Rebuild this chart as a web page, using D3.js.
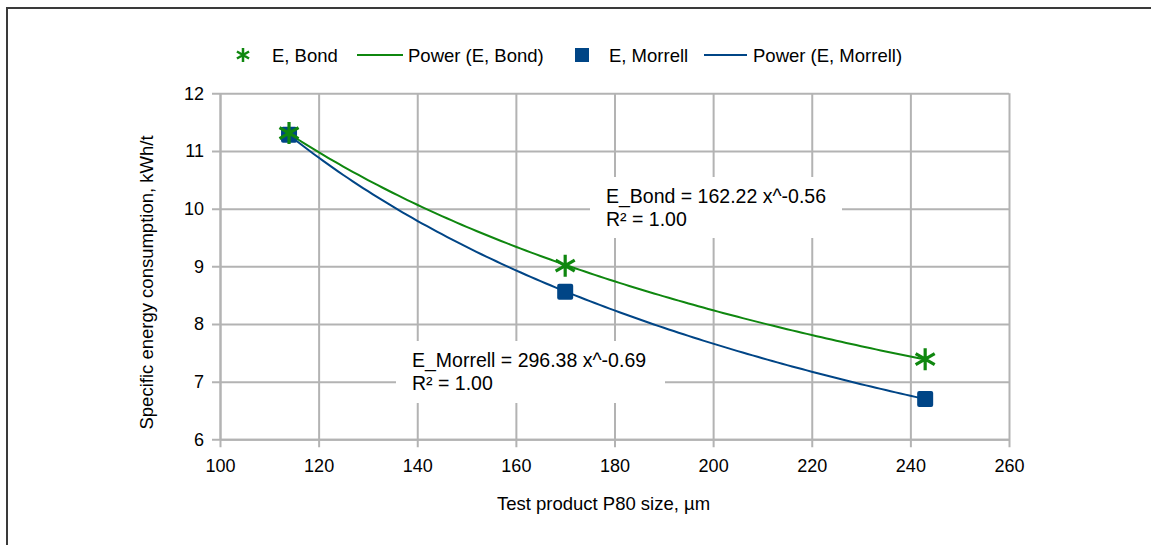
<!DOCTYPE html>
<html>
<head>
<meta charset="utf-8">
<script src="https://cdn.jsdelivr.net/npm/d3@7"></script>
<style>
  body { margin: 0; background: #fff; }
  text { font-family: "Liberation Sans", Arial, sans-serif; fill: #000; }
</style>
</head>
<body>
<svg id="chart" width="1151" height="545"></svg>
<script>
var sizeP80 = [114, 170, 243];
var energyBond = [11.31, 9.01, 7.39];
var energyMorrell = [11.28, 8.56, 6.70];
var xTicks = [100, 120, 140, 160, 180, 200, 220, 240, 260];
var yTicks = [6, 7, 8, 9, 10, 11, 12];
var legendLabels = ["E, Bond", "Power (E, Bond)", "E, Morrell", "Power (E, Morrell)"];
var fitLabels = [["E_Bond = 162.22 x^-0.56", "R\u00b2 = 1.00"], ["E_Morrell = 296.38 x^-0.69", "R\u00b2 = 1.00"]];

var green = "#0f870f", blue = "#004586", gridColor = "#b3b3b3";

var svg = d3.select("#chart");

// outer frame, cut off at the right and bottom
svg.append("rect")
  .attr("x", 7).attr("y", 8)
  .attr("width", 1200).attr("height", 600)
  .attr("fill", "none")
  .attr("stroke", "#3a3a3a")
  .attr("stroke-width", 2);

var plotLeft = 220, plotRight = 1009, plotTop = 93.3, plotBottom = 439.3;

var x = d3.scaleLinear().domain([100, 260]).range([plotLeft, plotRight]);
var y = d3.scaleLinear().domain([6, 12]).range([plotBottom, plotTop]);

// power fit y = a*x^b by least squares in log-log space
function powerFit(xs, ys){
  var lx = xs.map(Math.log), ly = ys.map(Math.log);
  var mx = d3.mean(lx), my = d3.mean(ly);
  var sxy = d3.sum(lx, function(d,i){ return (d-mx)*(ly[i]-my); });
  var sxx = d3.sum(lx, function(d){ return (d-mx)*(d-mx); });
  var b = sxy/sxx;
  var a = Math.exp(my - b*mx);
  return function(v){ return a*Math.pow(v, b); };
}

// grid + axes
var xAxis = svg.append("g")
  .attr("transform", "translate(0," + plotBottom + ")")
  .call(d3.axisBottom(x).tickValues(xTicks).tickFormat(d3.format("d"))
    .tickSize(8).tickSizeOuter(0).tickPadding(12));
xAxis.selectAll(".tick line").attr("y1", -(plotBottom - plotTop));

var yAxis = svg.append("g")
  .attr("transform", "translate(" + plotLeft + ",0)")
  .call(d3.axisLeft(y).tickValues(yTicks).tickFormat(d3.format("d"))
    .tickSize(8).tickSizeOuter(0).tickPadding(8));
yAxis.selectAll(".tick line").attr("x1", plotRight - plotLeft);

svg.selectAll(".domain").attr("stroke", gridColor).attr("stroke-width", 2);
svg.selectAll(".tick line").attr("stroke", gridColor).attr("stroke-width", 2);
svg.selectAll(".tick text")
  .style("font-size", "18px")
  .attr("fill", "#000");

// white boxes behind the fit equations
var fitBoxes = [[590, 177, 252, 61], [396, 341, 269, 62]];
var fitText = [[606, 202.5], [412, 366.5]];
fitLabels.forEach(function(lines, k){
  svg.append("rect")
    .attr("x", fitBoxes[k][0]).attr("y", fitBoxes[k][1])
    .attr("width", fitBoxes[k][2]).attr("height", fitBoxes[k][3])
    .attr("fill", "#fff");
  var t = svg.append("text")
    .attr("x", fitText[k][0]).attr("y", fitText[k][1])
    .style("font-size", "19.5px");
  t.selectAll("tspan")
    .data(lines)
    .enter()
    .append("tspan")
    .attr("x", fitText[k][0])
    .attr("dy", function(d,i){ return i == 0 ? 0 : 23; })
    .text(function(d){ return d; });
});

// trend curves
var fitBond = powerFit(sizeP80, energyBond);
var fitMorrell = powerFit(sizeP80, energyMorrell);
var curveX = d3.range(d3.min(sizeP80), d3.max(sizeP80) + 0.5, 1);
var line = d3.line().x(function(d){ return x(d[0]); }).y(function(d){ return y(d[1]); });

svg.append("path")
  .attr("d", line(curveX.map(function(v){ return [v, fitMorrell(v)]; })))
  .attr("fill", "none").attr("stroke", blue).attr("stroke-width", 2);
svg.append("path")
  .attr("d", line(curveX.map(function(v){ return [v, fitBond(v)]; })))
  .attr("fill", "none").attr("stroke", green).attr("stroke-width", 2);

function asterisk(r){
  var u = r*Math.sqrt(3)/2, t = r/2;
  return "M0," + r + "L0," + (-r) + "M" + (-u) + "," + (-t) + "L" + u + "," + t +
         "M" + (-u) + "," + t + "L" + u + "," + (-t);
}

// markers
svg.append("g").selectAll("rect")
  .data(sizeP80)
  .enter()
  .append("rect")
  .attr("x", function(d){ return x(d) - 8; })
  .attr("y", function(d,i){ return y(energyMorrell[i]) - 8; })
  .attr("width", 16).attr("height", 16)
  .attr("rx", 2)
  .attr("fill", blue);

svg.append("g").selectAll("path")
  .data(sizeP80)
  .enter()
  .append("path")
  .attr("transform", function(d,i){ return "translate(" + x(d) + "," + y(energyBond[i]) + ")"; })
  .attr("d", asterisk(11))
  .attr("stroke", green)
  .attr("stroke-width", 3.2)
  .attr("fill", "none");

// legend, keys placed where the original has them
var legend = svg.append("g");
var ly = 55;
var keyX = [243, 357, 582, 704];
var textX = [272, 408, 609, 753];

legend.append("path")
  .attr("transform", "translate(" + keyX[0] + "," + ly + ")")
  .attr("d", asterisk(7))
  .attr("stroke", green).attr("stroke-width", 2.5).attr("fill", "none");
legend.append("line")
  .attr("x1", keyX[1]).attr("x2", keyX[1] + 46).attr("y1", ly).attr("y2", ly)
  .attr("stroke", green).attr("stroke-width", 2);
legend.append("rect")
  .attr("x", keyX[2] - 7).attr("y", ly - 7).attr("width", 14).attr("height", 14)
  .attr("fill", blue);
legend.append("line")
  .attr("x1", keyX[3]).attr("x2", keyX[3] + 43).attr("y1", ly).attr("y2", ly)
  .attr("stroke", blue).attr("stroke-width", 2);

legend.selectAll("text")
  .data(legendLabels)
  .enter()
  .append("text")
  .attr("x", function(d,i){ return textX[i]; })
  .attr("y", ly + 6.5)
  .style("font-size", "18.5px")
  .text(function(d){ return d; });

// axis titles
svg.append("text")
  .attr("x", 603.5).attr("y", 510)
  .attr("text-anchor", "middle")
  .style("font-size", "18.5px")
  .text("Test product P80 size, \u00b5m");

svg.append("text")
  .attr("transform", "translate(153,282.5) rotate(-90)")
  .attr("text-anchor", "middle")
  .style("font-size", "18.5px")
  .text("Specific energy consumption, kWh/t");
</script>
</body>
</html>
